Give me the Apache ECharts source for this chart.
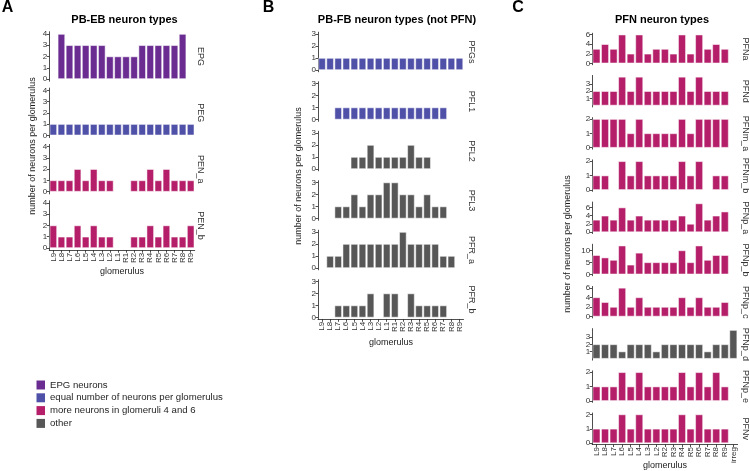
<!DOCTYPE html>
<html><head><meta charset="utf-8">
<script src="https://cdn.jsdelivr.net/npm/echarts@6/dist/echarts.min.js"></script>
<style>html,body{margin:0;padding:0;background:#fff}#c{width:749px;height:471px}</style>
</head><body><div id="c"></div>
<script>
// ---------- categories ----------
const glomAB = ['L9','L8','L7','L6','L5','L4','L3','L2','L1','R1','R2','R3','R4','R5','R6','R7','R8','R9'];
const glomC  = ['L9','L8','L7','L6','L5','L4','L3','L2','R2','R3','R4','R5','R6','R7','R8','R9','irreg'];

// ---------- tick labels ----------
const ticksA = [0,1,2,3,4];
const ticksB = [0,1,2,3];
const ticksPFNa  = [0,2,4,6];
const ticksPFNd  = [0,1,2,3,4];
const ticksPFNm  = [0,1,2];
const ticksPFNpa = [0,2,4,6];
const ticksPFNpb = [0,5,10];
const ticksPFNpc = [0,2,4,6];
const ticksPFNpd = [0,1,2,3,4];
const ticksPFNpe = [0,1,2];

// ---------- Panel A: PB-EB ----------
const EPG   = [null,4,3,3,3,3,3,2,2,2,2,3,3,3,3,3,4,null];
const PEG   = [1,1,1,1,1,1,1,1,1,1,1,1,1,1,1,1,1,1];
const PEN_a = [1,1,1,2,1,2,1,1,null,null,1,1,2,1,2,1,1,1];
const PEN_b = [2,1,1,2,1,2,1,1,null,null,1,1,2,1,2,1,1,2];

// ---------- Panel B: PB-FB (not PFN) ----------
const PFGs  = [1,1,1,1,1,1,1,1,1,1,1,1,1,1,1,1,1,1];
const PFL1  = [null,null,1,1,1,1,1,1,1,1,1,1,1,1,1,1,null,null];
const PFL2  = [null,null,null,null,1,1,2,1,1,1,1,2,1,1,null,null,null,null];
const PFL3  = [null,null,1,1,2,1,2,2,3,3,2,2,1,2,1,1,null,null];
const PFR_a = [null,1,1,2,2,2,2,2,2,2,3,2,2,2,2,1,1,null];
const PFR_b = [null,null,1,1,1,1,2,null,2,2,null,2,1,1,1,1,null,null];

// ---------- Panel C: PFN ----------
const PFNa   = [3,4,3,6,2,6,2,3,3,2,6,2,6,3,4,3,null];
const PFNd   = [2,2,2,4,2,4,2,2,2,2,4,2,4,2,2,2,null];
const PFNm_a = [2,2,2,2,1,2,1,1,1,1,2,1,2,2,2,2,null];
const PFNm_b = [1,1,null,2,1,2,1,1,1,1,2,1,2,null,1,1,null];
const PFNp_a = [3,4,3,6,3,4,3,3,3,3,4,2,7,3,4,5,null];
const PFNp_b = [8,7,6,12,4,9,5,5,5,5,10,5,12,6,8,8,null];
const PFNp_c = [4,3,2,6,2,4,2,2,2,2,4,2,4,2,2,3,null];
const PFNp_d = [2,2,2,1,2,2,2,1,2,2,2,2,2,1,2,2,4];
const PFNp_e = [1,1,1,2,1,2,1,1,1,1,2,1,2,1,2,1,null];
const PFNv   = [1,1,1,2,1,2,1,1,1,1,2,1,2,1,1,1,null];

// ---------- legend groups ----------
const G_EPG = 'EPG neurons';
const G_EQ  = 'equal number of neurons per glomerulus';
const G_46  = 'more neurons in glomeruli 4 and 6';
const G_OTH = 'other';
const groups = [G_EPG, G_EQ, G_46, G_OTH];
const groupColor = {};
groupColor[G_EPG] = '#6a2c91';
groupColor[G_EQ]  = '#4f50a8';
groupColor[G_46]  = '#b51f6a';
groupColor[G_OTH] = '#575757';

const FONT = '"Liberation Sans", Arial, sans-serif';

const columns = [
  { cats: glomAB, left: 49.3, width: 145.4, zero0: 79, step: 56.33, stripX: 200,
    unit: () => 11.25,
    panels: [
      {label:'EPG',   data:EPG,   g:G_EPG, max:4, ticks:ticksA},
      {label:'PEG',   data:PEG,   g:G_EQ,  max:4, ticks:ticksA},
      {label:'PEN_a', data:PEN_a, g:G_46,  max:4, ticks:ticksA},
      {label:'PEN_b', data:PEN_b, g:G_46,  max:4, ticks:ticksA}
    ]},
  { cats: glomAB, left: 318, width: 145.5, zero0: 70, step: 49.5, stripX: 471.5,
    unit: () => 12,
    panels: [
      {label:'PFGs',  data:PFGs,  g:G_EQ,  max:3, ticks:ticksB},
      {label:'PFL1',  data:PFL1,  g:G_EQ,  max:3, ticks:ticksB},
      {label:'PFL2',  data:PFL2,  g:G_OTH, max:3, ticks:ticksB},
      {label:'PFL3',  data:PFL3,  g:G_OTH, max:3, ticks:ticksB},
      {label:'PFR_a', data:PFR_a, g:G_OTH, max:3, ticks:ticksB},
      {label:'PFR_b', data:PFR_b, g:G_OTH, max:3, ticks:ticksB}
    ]},
  { cats: glomC, left: 592.2, width: 145.4, zero0: 63.3, step: 42.2, stripX: 745,
    unit: (m) => 31.5 / (1.1 * m),
    panels: [
      {label:'PFNa',   data:PFNa,   g:G_46,  max:6,  ticks:ticksPFNa},
      {label:'PFNd',   data:PFNd,   g:G_46,  max:4,  ticks:ticksPFNd},
      {label:'PFNm_a', data:PFNm_a, g:G_46,  max:2,  ticks:ticksPFNm},
      {label:'PFNm_b', data:PFNm_b, g:G_46,  max:2,  ticks:ticksPFNm},
      {label:'PFNp_a', data:PFNp_a, g:G_46,  max:7,  ticks:ticksPFNpa},
      {label:'PFNp_b', data:PFNp_b, g:G_46,  max:12, ticks:ticksPFNpb},
      {label:'PFNp_c', data:PFNp_c, g:G_46,  max:6,  ticks:ticksPFNpc},
      {label:'PFNp_d', data:PFNp_d, g:G_OTH, max:4,  ticks:ticksPFNpd},
      {label:'PFNp_e', data:PFNp_e, g:G_46,  max:2,  ticks:ticksPFNpe},
      {label:'PFNv',   data:PFNv,   g:G_46,  max:2,  ticks:ticksPFNpe}
    ]}
];

const option = {
  animation: false,
  backgroundColor: '#ffffff',
  textStyle: { fontFamily: FONT },
  grid: [], xAxis: [], yAxis: [], series: [], graphic: [],
  legend: {
    data: groups, orient: 'vertical', left: 36.5, top: 380,
    itemWidth: 8.5, itemHeight: 9, itemGap: 2.8, padding: 0, icon: 'rect',
    selectedMode: false,
    itemStyle: { borderWidth: 0 },
    textStyle: { fontSize: 9.6, color: '#262626', fontFamily: FONT, lineHeight: 9 }
  }
};

const axisLineStyle = { color: '#222', width: 0.8 };

columns.forEach((col) => {
  const n = col.panels.length;
  col.panels.forEach((p, i) => {
    const u = col.unit(p.max);
    const zero = col.zero0 + col.step * i;
    const top = zero - 1.05 * p.max * u;
    const height = 1.1 * p.max * u;
    const gi = option.grid.length;
    const last = (i === n - 1);
    option.grid.push({ left: col.left, top: top, width: col.width, height: height });
    option.xAxis.push({
      gridIndex: gi, type: 'category', data: col.cats, show: last,
      axisLine: { show: true, onZero: false, lineStyle: axisLineStyle },
      axisTick: { show: true, length: 2.5, alignWithLabel: true, lineStyle: axisLineStyle },
      axisLabel: { rotate: 90, fontSize: 8, margin: 2.5, color: '#333', interval: 0, fontFamily: FONT }
    });
    option.yAxis.push({
      gridIndex: gi, type: 'value', min: -0.05 * p.max, max: 1.05 * p.max,
      splitLine: { show: false },
      axisLine: { show: true, lineStyle: axisLineStyle },
      axisTick: { show: true, length: 2.5, lineStyle: axisLineStyle, customValues: p.ticks },
      axisLabel: { fontSize: 8, margin: 2, color: '#333', fontFamily: FONT, customValues: p.ticks }
    });
    option.series.push({
      type: 'bar', name: p.g, xAxisIndex: gi, yAxisIndex: gi, data: p.data,
      barCategoryGap: '10%',
      itemStyle: { color: groupColor[p.g], borderColor: 'rgba(255,255,255,0.85)', borderWidth: 0.6 }
    });
    option.graphic.push({
      type: 'text', x: col.stripX, y: top + height / 2, rotation: -Math.PI / 2,
      style: { text: p.label, fontSize: 9, fill: '#333', fontFamily: FONT,
               textAlign: 'center', textVerticalAlign: 'middle', align: 'center', verticalAlign: 'middle' }
    });
  });
});

function txt(x, y, s, size, opts) {
  return Object.assign({
    type: 'text', x: x, y: y,
    style: Object.assign({ text: s, fontSize: size, fill: '#1a1a1a', fontFamily: FONT,
      textAlign: 'center', textVerticalAlign: 'middle', align: 'center', verticalAlign: 'middle' }, opts && opts.style)
  }, opts && opts.el);
}

// panel letters
option.graphic.push(txt(7.5, 7.5, 'A', 16, {style:{fontWeight:'bold', fill:'#000'}}));
option.graphic.push(txt(268.5, 7.5, 'B', 16, {style:{fontWeight:'bold', fill:'#000'}}));
option.graphic.push(txt(518, 7.5, 'C', 16, {style:{fontWeight:'bold', fill:'#000'}}));
// titles
option.graphic.push(txt(124.5, 19.5, 'PB-EB neuron types', 11, {style:{fontWeight:'bold', fill:'#000'}}));
option.graphic.push(txt(397, 19.5, 'PB-FB neuron types (not PFN)', 11, {style:{fontWeight:'bold', fill:'#000'}}));
option.graphic.push(txt(662, 19.5, 'PFN neuron types', 11, {style:{fontWeight:'bold', fill:'#000'}}));
// y axis titles
const yTitle = 'number of neurons per glomerulus';
option.graphic.push(txt(33, 146, yTitle, 9, {el:{rotation: Math.PI/2}}));
option.graphic.push(txt(299, 176, yTitle, 9, {el:{rotation: Math.PI/2}}));
option.graphic.push(txt(568, 244, yTitle, 9, {el:{rotation: Math.PI/2}}));
// x axis titles
option.graphic.push(txt(122, 271.5, 'glomerulus', 9));
option.graphic.push(txt(391, 342.3, 'glomerulus', 9));
option.graphic.push(txt(665, 465.5, 'glomerulus', 9));

const chart = echarts.init(document.getElementById('c'), null, { renderer: 'canvas' });
chart.setOption(option);
</script>
</body></html>
